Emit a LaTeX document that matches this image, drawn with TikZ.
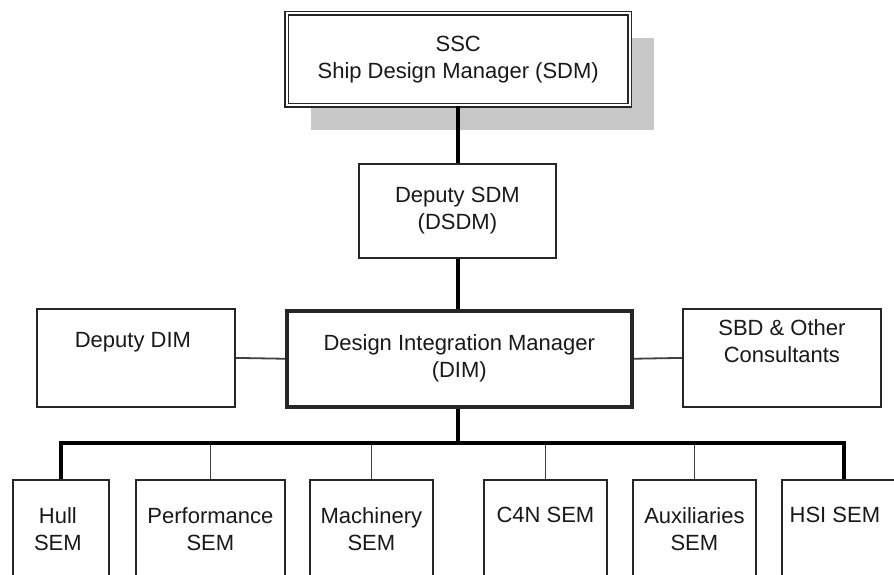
\documentclass[tikz,border=0pt]{standalone}
\usepackage{fontspec}
\setmainfont{Liberation Sans}
\usetikzlibrary{positioning,shadows}

\begin{document}
\begin{tikzpicture}[x=1pt, y=-1pt,
  box/.style={rectangle, draw=black!85, line width=1.8pt, fill=white,
    inner sep=0pt, anchor=north west},
  txt/.style={align=center, inner sep=0pt, text=black!90,
    font=\fontsize{22}{27}\selectfont},
  link/.style={draw=black!75, line width=1.8pt},
  trunk/.style={draw=black, line width=4.2pt}]

  \clip (0,0) rectangle (894,575);
  \fill[white] (0,0) rectangle (894,575);

  % management line
  \node[box, txt, double=white, double distance=2.4pt, line width=1.4pt,
    minimum width=343pt, minimum height=92pt,
    drop shadow={shadow xshift=24pt, shadow yshift=-25pt, fill=black!22, opacity=1}]
    (ssc) at (286,12.5) {SSC\\Ship Design Manager (SDM)};
  \node[box, txt, minimum width=197pt, minimum height=94pt]
    (dsdm) at (358,163) {Deputy SDM\\(DSDM)};
  \node[box, txt, line width=3.5pt, minimum width=345pt, minimum height=96pt]
    (dim) at (285,309) {Design Integration Manager\\(DIM)};

  % side boxes
  \node[box, minimum width=198pt, minimum height=98pt] (ddim) at (36,308) {};
  \node[txt, below=24pt of ddim.north, xshift=-3pt] (ddim-t) {Deputy DIM};
  \node[box, minimum width=198pt, minimum height=98pt] (sbd) at (682,308) {};
  \node[txt, below=11pt of sbd.north] (sbd-t) {SBD \& Other\\Consultants};

  % SEM boxes
  \node[box, minimum width=96pt, minimum height=120pt] (hull) at (12,479) {};
  \node[box, minimum width=149pt, minimum height=120pt] (perf) at (135,479) {};
  \node[box, minimum width=123pt, minimum height=120pt] (mach) at (309,479) {};
  \node[box, minimum width=123pt, minimum height=120pt] (c4n) at (483,479) {};
  \node[box, minimum width=123pt, minimum height=120pt] (aux) at (632,479) {};
  \node[box, minimum width=124pt, minimum height=120pt] (hsi) at (781,479) {};

  \node[txt, below=28pt of hull.north, xshift=-3pt] (hull-t) {Hull\\SEM};
  \node[txt, below=28pt of perf.north] (perf-t) {Performance\\SEM};
  \node[txt, below=28pt of mach.north] (mach-t) {Machinery\\SEM};
  \node[txt, below=28pt of c4n.north] (c4n-t) {C4N SEM};
  \node[txt, below=28pt of aux.north] (aux-t) {Auxiliaries\\SEM};
  \node[txt, below=28pt of hsi.north, xshift=-9pt] (hsi-t) {HSI SEM};

  % connectors
  \coordinate (bus) at (458,443);
  \draw[link] (ddim.east) -- (dim.west);
  \draw[link] (dim.east) -- (sbd.west);
  \foreach \b in {perf,mach,c4n,aux}
    \draw[link] (\b.north |- bus) -- (\b.north);
  \draw[trunk] (bus |- ssc.south) -- (bus |- dsdm.north);
  \draw[trunk] (bus |- dsdm.south) -- (bus |- dim.north);
  \draw[trunk] (bus |- dim.south) -- (bus);
  \draw[trunk] (hull.north) |- (bus) -| (hsi.north);
\end{tikzpicture}
\end{document}
